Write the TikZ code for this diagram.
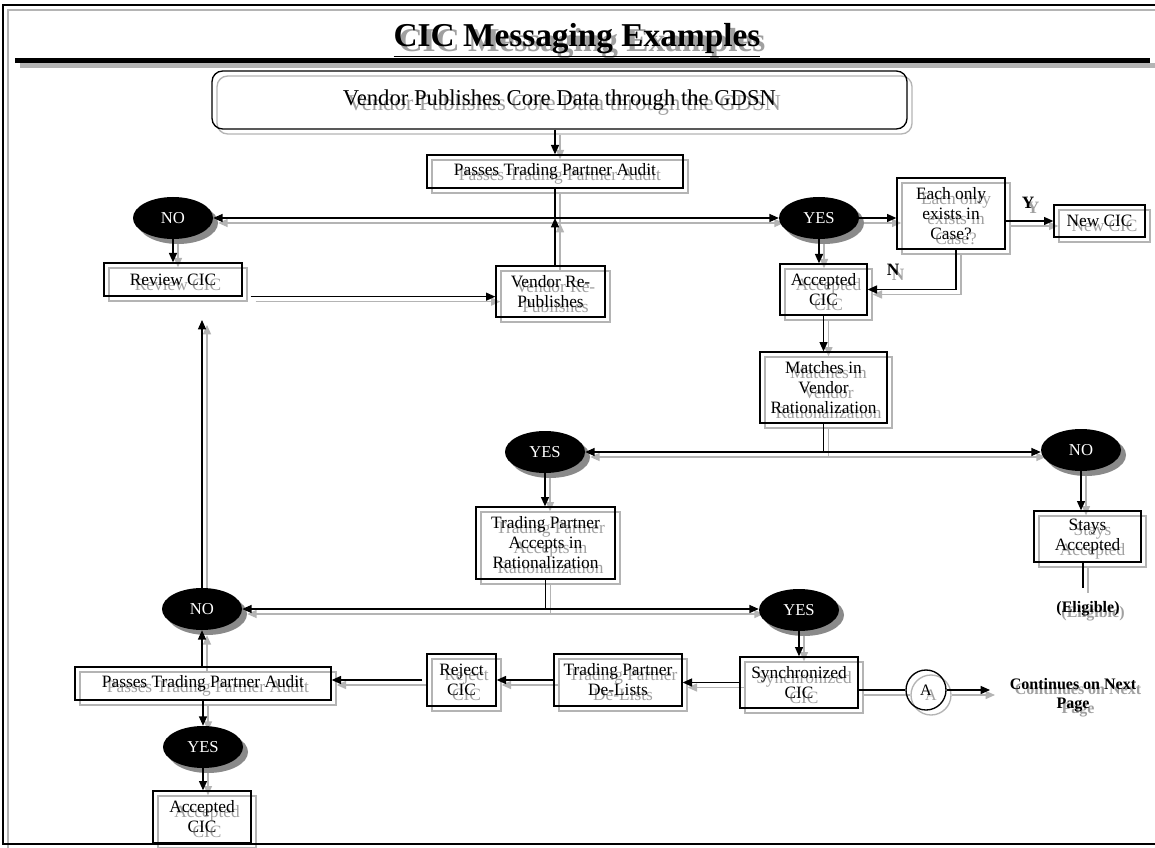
\documentclass[tikz,border=0pt]{standalone}
\usepackage{fontspec}
\setmainfont{Liberation Serif}
\usetikzlibrary{arrows.meta,shapes.geometric}
\definecolor{shline}{HTML}{B4B4B4}
\definecolor{shtext}{HTML}{A0A0A0}
\definecolor{shfill}{HTML}{8A8A8A}
\newcommand\LC{black}
\newcommand\TC{black}
\newcommand\EF{black}
\newcommand\ET{white}
\tikzset{
 px/.style={x=0.75pt,y=-0.75pt},
 box/.style={draw=\LC, line width=1pt, text=\TC, inner sep=0pt, align=center, font=\fontsize{13}{15}\selectfont},
 ell/.style={ellipse, fill=\EF, text=\ET, inner sep=0pt, minimum width=60pt, minimum height=31.5pt, font=\fontsize{12.5}{15}\selectfont},
 ln/.style={draw=\LC, line width=1pt},
 arr/.style={ln, -{Triangle[length=7pt,width=6pt]}},
 arrs/.style={ln, {Triangle[length=7pt,width=6pt]}-{Triangle[length=7pt,width=6pt]}},
 lbl/.style={text=\TC, inner sep=0pt, align=center},
 bflbl/.style={lbl, font=\fontsize{12}{14.5}\selectfont\bfseries},
}
\newcommand\bx[6]{\node[box, minimum width={(#4-#2)*0.75pt}, minimum height={(#5-#3)*0.75pt}] (#1) at ({(#2+#4)/2},{(#3+#5)/2}) {#6};}
\newcommand\el[4]{\node[ell] (#1) at (#2,#3) {#4};}

\newcommand\CICdrawing{%
 \draw[ln] (1160,5) -- (3,5) -- (3,844) -- (1160,844);
 \node[lbl, anchor=base, font=\fontsize{25}{30}\selectfont\bfseries] (title) at (577,47) {\underline{CIC Messaging Examples}};
 \draw[draw=\LC, line width=3.75pt] (15,60.5) -- (1150,60.5);
 \node[box, rounded corners=8pt, minimum width={695*0.75pt}, minimum height={58*0.75pt}, font=\fontsize{17}{20}\selectfont] (gdsn) at (559.5,100) {Vendor Publishes Core Data through the GDSN};
 \bx{pta1}{427}{155}{683}{188}{Passes Trading Partner Audit}
 \el{no1}{173}{218}{NO}
 \el{yes1}{819}{218}{YES}
 \bx{rev}{104}{263}{242}{296}{Review CIC}
 \bx{vrp}{496}{266}{605}{317}{Vendor Re-\\Publishes}
 \bx{each}{897}{178}{1005}{249}{Each only\\exists in\\Case?}
 \bx{newcic}{1054}{205}{1145}{237}{New CIC}
 \bx{acc1}{780}{264}{867}{315}{Accepted\\CIC}
 \bx{match}{760}{352}{887}{423}{Matches in\\Vendor\\Rationalization}
 \el{yes2}{545}{452}{YES}
 \el{no2}{1081}{450}{NO}
 \bx{stays}{1034}{511}{1141}{562}{Stays\\Accepted}
 \bx{tpa}{476}{507}{615}{579}{Trading Partner\\Accepts in\\Rationalization}
 \el{no3}{202}{609}{NO}
 \el{yes3}{799}{610}{YES}
 \bx{sync}{740}{657}{858}{708}{Synchronized\\CIC}
 \bx{delist}{554}{654}{682}{706}{Trading Partner\\De-Lists}
 \bx{reject}{427}{654}{496}{706}{Reject\\CIC}
 \bx{pta2}{75}{667}{331}{700}{Passes Trading Partner Audit}
 \el{yes4}{203}{747}{YES}
 \bx{acc2}{153}{791}{251}{843}{Accepted\\CIC}
 \node[circle, draw=\LC, line width=1pt, minimum size=30pt, inner sep=0pt, text=\TC, font=\fontsize{12}{14}\selectfont] (circA) at (926,690) {A};
 % connectors
 \draw[arr] (pta1.north |- gdsn.south) -- (pta1.north);
 \coordinate (j1) at (pta1.south |- no1.east);
 \draw[ln] (pta1.south) -- (j1);
 \draw[arrs] (no1.east) -- (yes1.west);
 \draw[arr] (pta1.south |- vrp.north) -- (j1);
 \draw[arr] (no1.south) -- (rev.north);
 \draw[arr] ([xshift=6pt]rev.south east) -- (rev.south east -| vrp.west);
 \draw[arr] (yes1.east) -- (yes1.east -| each.west);
 \draw[arr] (each.east |- newcic.west) -- (newcic.west);
 \node[bflbl, font=\fontsize{13}{15}\selectfont\bfseries] (ylab) at (1028,203) {Y};
 \draw[arr] (yes1.south) -- (yes1.south |- acc1.north);
 \draw[arr] ([xshift=3.75pt]each.south) |- (acc1.east);
 \node[bflbl, font=\fontsize{13}{15}\selectfont\bfseries] (nlab) at (893,270) {N};
 \draw[arr] (acc1.south) -- (match.north);
 \coordinate (j2) at (match.south |- yes2.east);
 \draw[ln] (match.south) -- (j2);
 \draw[arrs] (yes2.east) -- (yes2.east -| no2.west);
 \draw[arr] (no2.south) -- (no2.south |- stays.north);
 \coordinate (elig) at (1083,588);
 \draw[ln] (stays.south -| elig) -- (elig);
 \node[bflbl] (eligible) at (1088,609) {(Eligible)};
 \draw[arr] (yes2.south) -- (yes2.south |- tpa.north);
 \coordinate (j3) at (tpa.south |- no3.east);
 \draw[ln] (tpa.south) -- (j3);
 \draw[arrs] (no3.east) -- (no3.east -| yes3.west);
 \coordinate (revin) at (202,320);
 \draw[arr] (no3.north) -- (revin);
 \draw[arr] (yes3.south) -- (yes3.south |- sync.north);
 \draw[arr] (sync.west) -- (sync.west -| delist.east);
 \draw[arr] (delist.west) -- (delist.west -| reject.east);
 \draw[arr] ([xshift=-3pt]reject.west) -- (reject.west -| pta2.east);
 \draw[arr] (no3.south |- pta2.north) -- (no3.south);
 \draw[arr] (pta2.south) -- (pta2.south |- yes4.north);
 \draw[arr] (yes4.south) -- (yes4.south |- acc2.north);
 \draw[ln] (sync.east |- circA.west) -- (circA.west);
 \coordinate (cont) at (990,690);
 \draw[arr] (circA.east) -- (cont);
 \node[bflbl] (contlbl) at (1073,695) {Continues on Next\\Page};
}

\begin{document}
\begin{tikzpicture}[px]
\useasboundingbox (0,0) rectangle (1155,848);
\fill[white] (0,0) rectangle (1155,848);
\begin{scope}[shift={(5,5)}]
 \def\LC{shline}\def\TC{shtext}\def\EF{shfill}\def\ET{shfill}
 \CICdrawing
\end{scope}
\CICdrawing
\end{tikzpicture}
\end{document}
